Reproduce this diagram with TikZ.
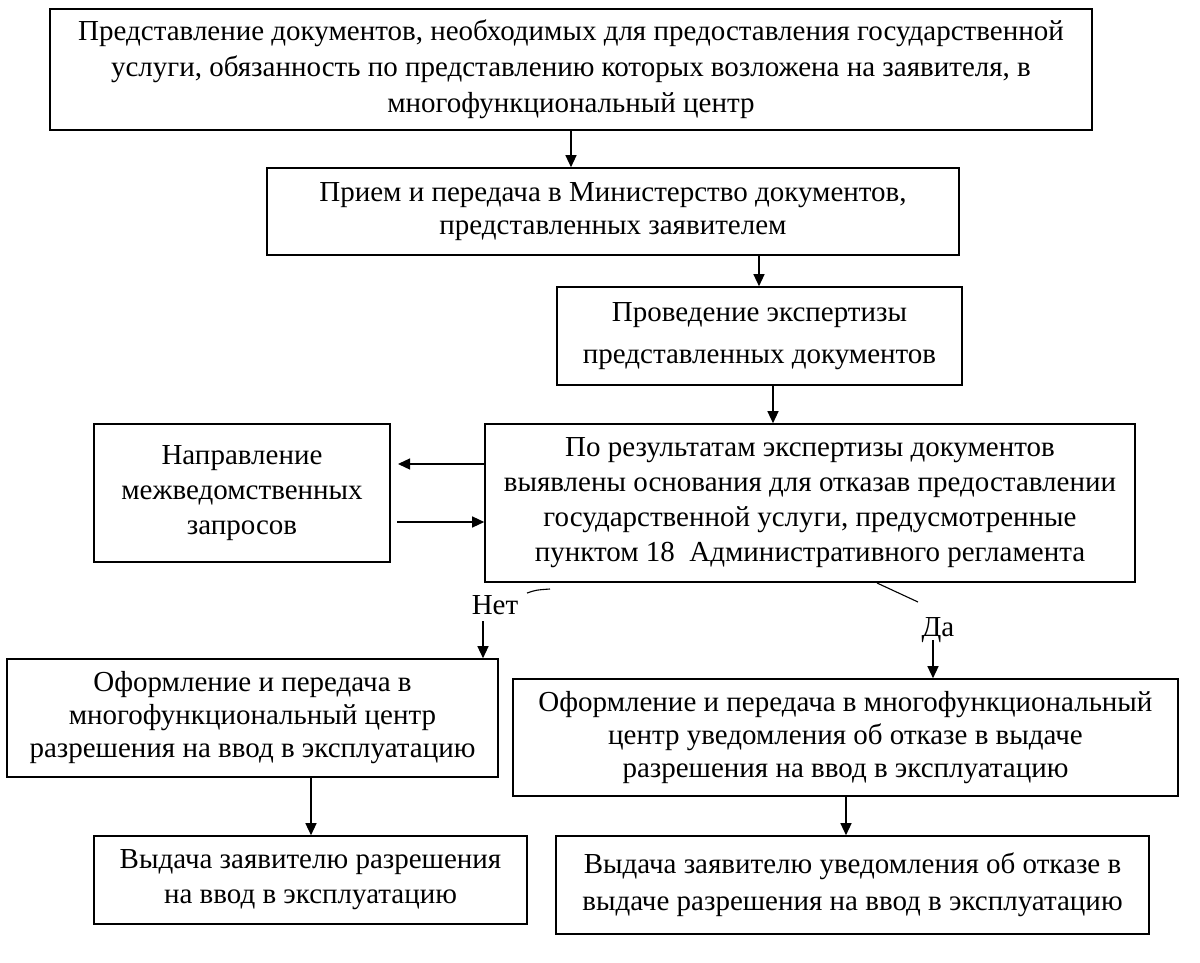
\documentclass[tikz,border=0pt]{standalone}
\usepackage{fontspec}
\setmainfont{Liberation Serif}
\usetikzlibrary{arrows.meta}
\begin{document}
\begin{tikzpicture}[x=1pt,y=-1pt,
  box/.style={draw, line width=1.6pt, inner sep=0pt, align=center, font=\fontsize{29}{35}\selectfont},
  lbl/.style={inner sep=0pt, font=\fontsize{29}{35}\selectfont},
  arr/.style={line width=1.3pt, -{Triangle[length=12pt,width=11pt]}},
  thin/.style={line width=1.1pt}]
\useasboundingbox (0,0) rectangle (1200,963);
\fill[white] (0,0) rectangle (1200,963);

\node[box, minimum width=1042pt, minimum height=121pt, font=\fontsize{29}{36}\selectfont] (b1) at (571,69.5)
  {Представление документов, необходимых для предоставления государственной\\
   услуги, обязанность по представлению которых возложена на заявителя, в\\
   многофункциональный центр};
\node[box, minimum width=692pt, minimum height=87pt, font=\fontsize{29}{33}\selectfont] (b2) at (613,211.5)
  {Прием и передача в Министерство документов,\\ представленных заявителем};
\node[box, minimum width=405pt, minimum height=98pt, font=\fontsize{29}{42}\selectfont] (b3) at (759.5,336)
  {Проведение экспертизы\\ представленных документов};
\node[box, minimum width=650pt, minimum height=158pt, font=\fontsize{29}{35}\selectfont] (b4) at (810,503)
  {По результатам экспертизы документов\\
   выявлены основания для отказав предоставлении\\
   государственной услуги, предусмотренные\\
   пунктом 18~ Административного регламента};
\node[box, minimum width=296pt, minimum height=138pt] (bl) at (242,493)
  {Направление\\ межведомственных\\ запросов};
\node[box, minimum width=491pt, minimum height=118pt, font=\fontsize{29}{33}\selectfont] (b5) at (252.5,718)
  {Оформление и передача в\\ многофункциональный центр\\ разрешения на ввод в эксплуатацию};
\node[box, minimum width=665pt, minimum height=117pt, font=\fontsize{29}{33}\selectfont] (b6) at (845.5,737.5)
  {Оформление и передача в многофункциональный\\ центр уведомления об отказе в выдаче\\ разрешения на ввод в эксплуатацию};
\node[box, minimum width=433pt, minimum height=88pt, font=\fontsize{29}{35}\selectfont] (b7) at (310.5,880)
  {Выдача заявителю разрешения\\ на ввод в эксплуатацию};
\node[box, minimum width=593pt, minimum height=98pt, font=\fontsize{29}{37}\selectfont] (b8) at (852.5,885)
  {Выдача заявителю уведомления об отказе в\\ выдаче разрешения на ввод в эксплуатацию};

\node[lbl] (net) at (495,605) {Нет};
\node[lbl] (da) at (938,630) {Да};

\coordinate (a1) at (571,0);
\coordinate (a2) at (759,0);
\coordinate (a3) at (773,0);
\coordinate (l1) at (398,464);
\coordinate (l2) at (397,522);
\coordinate (n0) at (483,621);
\coordinate (d0) at (933,640);
\coordinate (a8) at (311,0);
\coordinate (a9) at (846,0);

\draw[arr] (a1 |- b1.south) -- (a1 |- b2.north);
\draw[arr] (a2 |- b2.south) -- (a2 |- b3.north);
\draw[arr] (a3 |- b3.south) -- (a3 |- b4.north);
\draw[arr] (b4.west |- l1) -- (l1);
\draw[arr] (l2) -- (l2 -| b4.west);
\draw[arr] (n0) -- (n0 |- b5.north);
\draw[arr] (d0) -- (d0 |- b6.north);
\draw[arr] (a8 |- b5.south) -- (a8 |- b7.north);
\draw[arr] (a9 |- b6.south) -- (a9 |- b8.north);

\coordinate (s1) at (527,593);
\coordinate (s2) at (550,589);
\coordinate (s3) at (877,583);
\coordinate (s4) at (918,602);
\draw[thin] (s1) .. controls (536,590) .. (s2);
\draw[thin] (s3) -- (s4);
\end{tikzpicture}
\end{document}
